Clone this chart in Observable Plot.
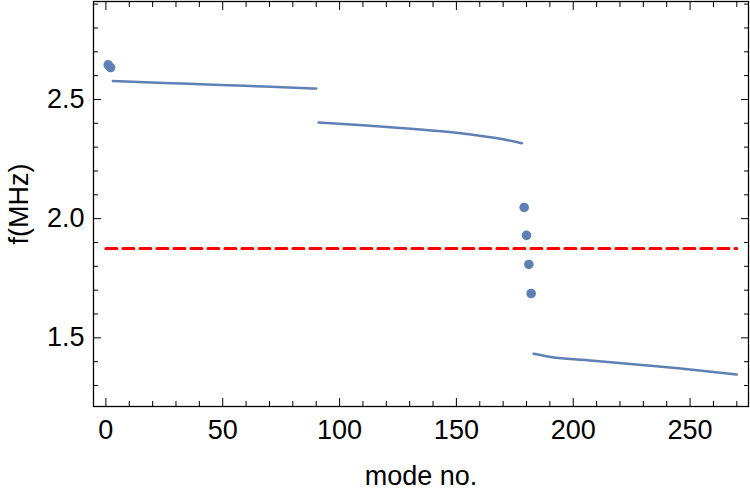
<!DOCTYPE html>
<html>
<head>
<meta charset="utf-8">
<script src="https://cdn.jsdelivr.net/npm/d3@7"></script>
<script src="https://cdn.jsdelivr.net/npm/@observablehq/plot@0.6"></script>
<style>
  html, body { margin: 0; padding: 0; background: #fff; }
</style>
</head>
<body>
<div id="chart"></div>
<script>
// Isolated modes (large dots)
const dotModes = [1, 2, 179, 180, 181, 182];
const dotFreqs = [2.645, 2.634, 2.047, 1.930, 1.808, 1.686];

// Dense bands (drawn as thin lines through read points)
const band1Modes = [3, 25, 46, 68, 90];
const band1Freqs = [2.577, 2.569, 2.562, 2.554, 2.546];
const band2Modes = [91, 110, 132, 150, 160, 170, 178];
const band2Freqs = [2.403, 2.392, 2.376, 2.360, 2.348, 2.333, 2.316];
const band3Modes = [183, 189, 210, 228, 246, 270];
const band3Freqs = [1.433, 1.422, 1.403, 1.387, 1.371, 1.346];

// Reference frequency (dashed red)
const refModes = [0, 270];
const refFreq = 1.875;

// Ticks
const xMajor = [0, 50, 100, 150, 200, 250];
const xMinor = [10, 20, 30, 40, 60, 70, 80, 90, 110, 120, 130, 140, 160, 170, 180, 190, 210, 220, 230, 240, 260, 270];
const yMajor = [1.5, 2.0, 2.5];
const yMinor = [1.3, 1.4, 1.6, 1.7, 1.8, 1.9, 2.1, 2.2, 2.3, 2.4, 2.6, 2.7, 2.8, 2.9];

const blue = "#5E81B5";
const dots = dotModes.map((m, i) => ({mode: m, f: dotFreqs[i]}));
const bands = [
  ...band1Modes.map((m, i) => ({mode: m, f: band1Freqs[i], band: 1})),
  ...band2Modes.map((m, i) => ({mode: m, f: band2Freqs[i], band: 2})),
  ...band3Modes.map((m, i) => ({mode: m, f: band3Freqs[i], band: 3}))
];
const ref = refModes.map(m => ({mode: m, f: refFreq}));

const font = "'Liberation Sans', Arial, Helvetica, sans-serif";
const tickOpts = (anchor, ticks, size) => ({anchor, ticks, tickSize: size, text: null, label: null, stroke: "black", strokeWidth: 1});

const chart = Plot.plot({
  width: 750,
  height: 494,
  marginLeft: 93,
  marginRight: 2,
  marginTop: 1,
  marginBottom: 88,
  style: {fontFamily: font, fontSize: "27px", color: "black", background: "white"},
  x: {domain: [-5.3, 275.0]},
  y: {domain: [1.212, 2.911]},
  marks: [
    Plot.lineY(ref, {x: "mode", y: "f", stroke: "#ff0000", strokeWidth: 3, strokeDasharray: "11,6"}),
    Plot.line(bands, {x: "mode", y: "f", z: "band", stroke: blue, strokeWidth: 2.5, curve: "monotone-x"}),
    Plot.dot(dots, {x: "mode", y: "f", r: 4.8, fill: blue, stroke: "none"}),
    Plot.frame({stroke: "black", strokeWidth: 1.3}),
    Plot.axisX(tickOpts("bottom", xMajor, -8)),
    Plot.axisX(tickOpts("bottom", xMinor, -5)),
    Plot.axisX(tickOpts("top", xMajor, -8)),
    Plot.axisX(tickOpts("top", xMinor, -5)),
    Plot.axisY(tickOpts("left", yMajor, -8)),
    Plot.axisY(tickOpts("left", yMinor, -5)),
    Plot.axisY(tickOpts("right", yMajor, -8)),
    Plot.axisY(tickOpts("right", yMinor, -5)),
    Plot.axisX({anchor: "bottom", ticks: xMajor, tickSize: 0, tickPadding: 13, fontSize: 27,
      tickFormat: d => String(d), label: "mode no.", labelAnchor: "center", labelArrow: "none", labelOffset: 78}),
    Plot.axisY({anchor: "left", ticks: yMajor, tickSize: 0, tickPadding: 9, fontSize: 27,
      tickFormat: d3.format(".1f"), label: "f(MHz)", labelAnchor: "center", labelArrow: "none", labelOffset: 85})
  ]
});
document.getElementById("chart").appendChild(chart);
</script>
</body>
</html>
